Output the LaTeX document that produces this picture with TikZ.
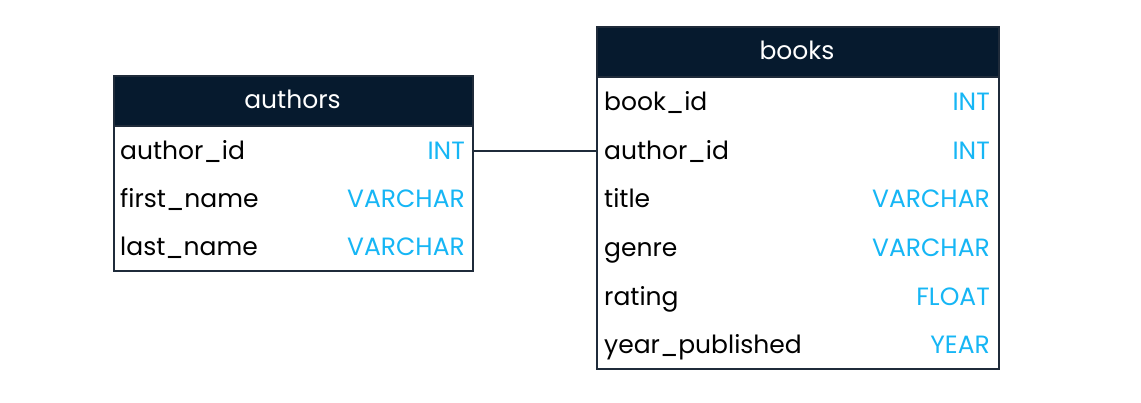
\documentclass[tikz,border=0pt]{standalone}
\usepackage{fontspec}
\setmainfont{Poppins}
\definecolor{hdr}{HTML}{061A2E}
\definecolor{edge}{HTML}{1F2B3A}
\definecolor{typ}{HTML}{16B6F5}
\begin{document}
\begin{tikzpicture}[x=1pt,y=-1pt,
  hdrbox/.style={fill=hdr,draw=edge,line width=1.5pt,inner sep=0pt,anchor=north west},
  bodybox/.style={fill=white,draw=edge,line width=1.5pt,inner sep=0pt,anchor=north west},
  hdrtext/.style={text=white,font=\fontsize{25}{30}\selectfont,inner sep=0pt,anchor=mid},
  fld/.style={font=\fontsize{25}{30}\selectfont,inner sep=0pt,anchor=mid west,text=black},
  ftype/.style={font=\fontsize{25}{30}\selectfont,inner sep=0pt,anchor=mid east,text=typ},
  link/.style={draw=edge,line width=1.5pt}]
\useasboundingbox (0,0) rectangle (1141,402);
% authors
\node[bodybox,minimum width=359pt,minimum height=145pt] (abody) at (113,125) {};
\node[hdrbox,minimum width=359pt,minimum height=50pt] (ahdr) at (113,75) {};
\node[hdrtext] (atitle) at (292.5,106) {authors};
\node[fld] (a1) at (120,157) {author\_id};
\node[ftype] (a1t) at (465,157) {INT};
\node[fld] (a2) at (120,205) {first\_name};
\node[ftype] (a2t) at (465,205) {VARCHAR};
\node[fld] (a3) at (120,253) {last\_name};
\node[ftype] (a3t) at (465,253) {VARCHAR};
% books
\node[bodybox,minimum width=402pt,minimum height=292pt] (bbody) at (596,76) {};
\node[hdrbox,minimum width=402pt,minimum height=50pt] (bhdr) at (596,26) {};
\node[hdrtext] (btitle) at (797,57) {books};
\node[fld] (b1) at (604,108) {book\_id};
\node[ftype] (b1t) at (990,108) {INT};
\node[fld] (b2) at (604,157) {author\_id};
\node[ftype] (b2t) at (990,157) {INT};
\node[fld] (b3) at (604,205) {title};
\node[ftype] (b3t) at (990,205) {VARCHAR};
\node[fld] (b4) at (604,254) {genre};
\node[ftype] (b4t) at (990,254) {VARCHAR};
\node[fld] (b5) at (604,303) {rating};
\node[ftype] (b5t) at (990,303) {FLOAT};
\node[fld] (b6) at (604,351) {year\_published};
\node[ftype] (b6t) at (990,351) {YEAR};
% connector
\coordinate (ca) at (abody.east |- 0,151);
\coordinate (cb) at (bbody.west |- 0,151);
\draw[link] (ca) -- (cb);
\end{tikzpicture}
\end{document}
